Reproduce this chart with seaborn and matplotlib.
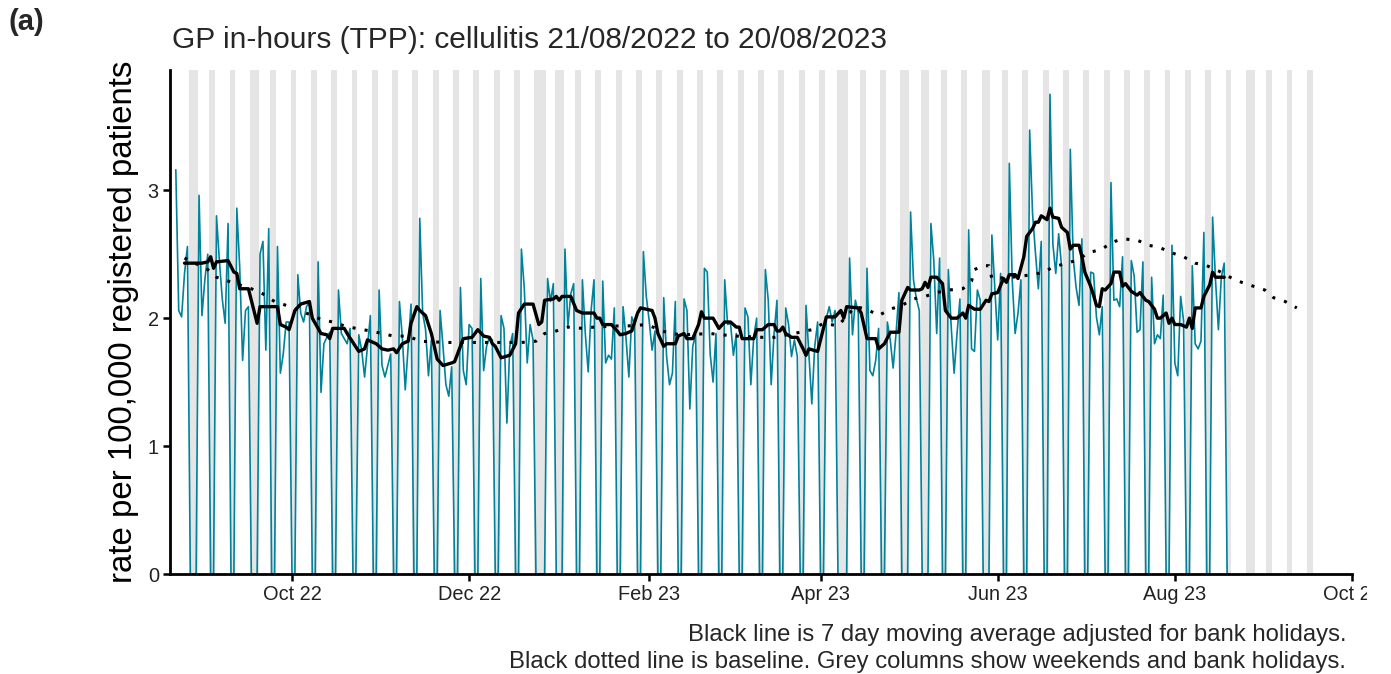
import pandas as pd
import matplotlib
matplotlib.use("Agg")
import matplotlib.pyplot as plt
import matplotlib.dates as mdates
from matplotlib.transforms import Bbox
import seaborn as sns

# ---------------------------------------------------------------
# DATA
# ---------------------------------------------------------------

# daily rate per 100,000, one row per week, Monday..Sunday, from 22/08/2022
series_start = "2022-08-22"
daily_rate = [
    3.16, 2.06, 2.01, 2.35, 2.56, 0, 0,
    0, 2.96, 2.02, 2.30, 2.50, 0, 0,
    2.80, 2.45, 2.15, 1.96, 2.74, 0, 0,
    2.86, 2.40, 1.67, 2.06, 2.09, 0, 0,
    0, 2.50, 2.60, 1.75, 2.70, 0, 0,
    2.56, 1.57, 1.72, 1.97, 1.97, 0, 0,
    2.34, 2.04, 1.97, 2.09, 2.13, 0, 0,
    2.44, 1.42, 1.80, 1.85, 1.89, 0, 0,
    2.22, 1.88, 1.84, 1.80, 1.92, 0, 0,
    1.87, 1.75, 1.54, 1.78, 2.02, 0, 0,
    2.22, 1.63, 1.54, 1.63, 1.72, 0, 0,
    2.13, 1.85, 1.44, 1.78, 2.11, 0, 0,
    2.78, 2.04, 1.91, 1.55, 1.83, 0, 0,
    2.06, 1.78, 1.48, 1.39, 1.62, 0, 0,
    2.24, 1.59, 1.48, 1.95, 1.92, 0, 0,
    2.31, 1.59, 1.78, 1.85, 1.83, 0, 0,
    2.02, 1.92, 1.18, 1.78, 1.88, 0, 0,
    2.54, 2.23, 1.65, 1.95, 1.83, 0, 0,
    0, 0, 2.31, 2.13, 2.27, 0, 0,
    0, 2.54, 1.93, 2.19, 2.27, 0, 0,
    2.30, 1.88, 1.58, 2.06, 2.30, 0, 0,
    2.29, 1.65, 1.71, 1.68, 2.08, 0, 0,
    2.09, 1.85, 1.54, 2.01, 1.95, 0, 0,
    2.52, 2.17, 1.98, 1.75, 1.90, 0, 0,
    2.16, 1.70, 1.48, 1.57, 2.13, 0, 0,
    2.15, 2.06, 1.29, 1.78, 1.87, 0, 0,
    2.39, 2.36, 1.72, 1.50, 1.88, 0, 0,
    2.30, 1.95, 1.96, 1.71, 1.88, 0, 0,
    2.08, 2.01, 1.48, 1.85, 2.00, 0, 0,
    2.38, 2.14, 1.48, 1.88, 2.14, 0, 0,
    2.08, 1.95, 1.70, 1.83, 1.70, 0, 0,
    2.10, 1.72, 1.33, 1.78, 1.97, 0, 0,
    2.00, 2.09, 1.97, 2.06, 0, 0, 0,
    0, 2.47, 1.87, 2.14, 2.04, 0, 0,
    2.39, 1.59, 1.55, 1.67, 1.92, 0, 0,
    1.97, 1.83, 1.61, 1.88, 2.20, 0, 0,
    0, 2.83, 2.30, 2.15, 2.06, 0, 0,
    0, 2.74, 2.45, 1.88, 2.47, 0, 0,
    2.38, 1.93, 1.57, 1.88, 2.15, 0, 0,
    2.69, 1.76, 1.74, 2.22, 2.14, 0, 0,
    0, 2.65, 2.24, 1.83, 2.35, 0, 0,
    3.21, 2.30, 1.88, 2.04, 2.30, 0, 0,
    3.47, 2.82, 2.51, 2.23, 2.60, 0, 0,
    3.75, 2.58, 2.35, 2.66, 2.40, 0, 0,
    3.32, 2.47, 2.24, 2.10, 2.62, 0, 0,
    2.36, 2.35, 2.01, 1.87, 2.09, 0, 0,
    3.06, 2.14, 2.15, 2.09, 2.48, 0, 0,
    2.45, 2.33, 1.89, 1.91, 2.44, 0, 0,
    2.32, 1.80, 1.87, 1.84, 2.18, 0, 0,
    2.57, 1.65, 1.55, 2.17, 1.98, 0, 0,
    2.41, 1.80, 1.76, 1.82, 2.67, 0, 0,
    2.79, 2.30, 1.91, 2.32, 2.43, 0, 0,
]

# moving average and baseline, days counted from 21/08/2022
day_zero = "2022-08-21"
ma_day = [4, 10, 12, 13, 14, 15, 19, 21, 22, 23, 26, 27, 29, 30, 32, 36, 37, 39, 40, 42,
          44, 47, 48, 51, 53, 54, 55, 59, 60, 64, 66, 67, 70, 72, 74, 76, 77, 79, 81, 82,
          84, 85, 87, 89, 91, 93, 96, 97, 98, 100, 103, 105, 107, 109, 110, 111, 113, 116, 118, 119,
          121, 124, 126, 127, 128, 131, 132, 133, 134, 137, 139, 141, 145, 146, 147, 148, 151, 153, 154, 156,
          158, 160, 161, 165, 166, 167, 169, 170, 173, 174, 176, 177, 179, 181, 182, 183, 186, 188, 190, 192,
          194, 195, 196, 200, 201, 203, 205, 207, 208, 209, 210, 211, 213, 215, 217, 218, 219, 222, 224, 225,
          228, 230, 231, 232, 236, 237, 239, 242, 243, 244, 245, 247, 250, 251, 253, 254, 257, 258, 259, 260,
          261, 263, 265, 266, 268, 270, 272, 273, 274, 276, 278, 280, 281, 282, 284, 286, 287, 288, 290, 291,
          293, 294, 296, 297, 298, 299, 301, 302, 303, 305, 306, 308, 309, 310, 312, 313, 314, 316, 317, 318,
          319, 320, 321, 323, 324, 326, 327, 328, 330, 332, 333, 335, 336, 338, 339, 340, 342, 343, 344, 345,
          347, 349, 350, 351, 352, 354, 355, 357, 358, 359, 362]
ma_rate = [2.43, 2.43, 2.44, 2.48, 2.39, 2.44, 2.45, 2.36, 2.35, 2.23, 2.23, 2.14, 1.96, 2.09, 2.09, 2.09, 1.95, 1.93, 1.91, 2.06,
           2.11, 2.13, 2.00, 1.88, 1.87, 1.84, 1.92, 1.92, 1.88, 1.74, 1.76, 1.83, 1.80, 1.76, 1.75, 1.76, 1.73, 1.80, 1.82, 1.96,
           2.09, 2.06, 2.02, 1.88, 1.68, 1.63, 1.65, 1.66, 1.72, 1.84, 1.85, 1.91, 1.86, 1.85, 1.80, 1.78, 1.69, 1.71, 1.80, 2.04,
           2.11, 2.11, 1.95, 1.97, 2.14, 2.15, 2.17, 2.14, 2.17, 2.17, 2.06, 2.04, 2.04, 2.00, 2.00, 1.95, 1.95, 1.90, 1.87, 1.88,
           1.90, 2.04, 2.08, 2.06, 2.00, 1.88, 1.78, 1.80, 1.80, 1.86, 1.88, 1.84, 1.84, 1.95, 2.05, 2.00, 2.00, 1.92, 1.97, 1.97,
           1.93, 1.93, 1.84, 1.84, 1.91, 1.91, 1.95, 1.95, 1.90, 1.90, 1.93, 1.88, 1.85, 1.85, 1.76, 1.71, 1.76, 1.74, 1.92, 2.01,
           2.01, 2.06, 2.00, 2.09, 2.08, 2.04, 1.84, 1.84, 1.76, 1.78, 1.80, 1.89, 1.89, 2.14, 2.24, 2.22, 2.22, 2.23, 2.28, 2.24,
           2.32, 2.32, 2.27, 2.06, 2.00, 2.00, 2.04, 2.00, 2.10, 2.07, 2.07, 2.14, 2.13, 2.19, 2.20, 2.31, 2.28, 2.34, 2.34, 2.31,
           2.48, 2.64, 2.70, 2.75, 2.75, 2.80, 2.77, 2.86, 2.79, 2.78, 2.71, 2.67, 2.54, 2.57, 2.57, 2.48, 2.36, 2.25, 2.18, 2.10,
           2.09, 2.23, 2.22, 2.27, 2.36, 2.36, 2.25, 2.27, 2.21, 2.18, 2.20, 2.14, 2.13, 2.07, 2.00, 2.00, 2.04, 1.96, 2.00, 1.95,
           1.95, 1.93, 2.00, 1.92, 2.08, 2.08, 2.17, 2.26, 2.36, 2.32, 2.32]

baseline_day = [4, 12, 15, 19, 27, 31, 35, 39, 47, 51, 55, 59, 63, 68, 72, 76, 81, 85, 94, 99,
                103, 107, 111, 116, 120, 125, 128, 132, 136, 141, 145, 154, 158, 163, 171, 176, 185, 189, 194, 203,
                207, 216, 220, 224, 229, 235, 239, 243, 247, 251, 255, 259, 263, 267, 272, 275, 276, 279, 281, 282,
                289, 296, 300, 303, 308, 312, 315, 320, 323, 327, 332, 336, 340, 344, 348, 352, 356, 360, 364, 368,
                372, 376, 379, 383, 387]
baseline_rate = [2.47, 2.38, 2.32, 2.29, 2.23, 2.19, 2.13, 2.10, 2.03, 1.99, 1.97, 1.94, 1.92, 1.90, 1.88, 1.86, 1.86, 1.82, 1.81, 1.81,
                 1.81, 1.81, 1.81, 1.81, 1.81, 1.82, 1.88, 1.90, 1.93, 1.92, 1.93, 1.94, 1.94, 1.95, 1.88, 1.87, 1.88, 1.87, 1.86, 1.85,
                 1.85, 1.89, 1.91, 1.96, 1.94, 2.09, 2.07, 2.02, 2.07, 2.10, 2.15, 2.17, 2.20, 2.22, 2.23, 2.29, 2.38, 2.41, 2.41, 2.31,
                 2.32, 2.34, 2.36, 2.40, 2.43, 2.46, 2.51, 2.54, 2.59, 2.62, 2.61, 2.57, 2.55, 2.51, 2.48, 2.43, 2.41, 2.37, 2.32, 2.28,
                 2.25, 2.22, 2.16, 2.13, 2.08]

# grey columns: weekends and bank holidays
bank_holidays = ["2022-08-29", "2022-09-19", "2022-12-26", "2022-12-27", "2023-01-02",
                 "2023-04-07", "2023-04-10", "2023-05-01", "2023-05-08", "2023-05-29", "2023-08-28"]
grey_first = "2022-08-22"
grey_last = "2023-09-17"

tick_dates = ["2022-10-01", "2022-12-01", "2023-02-01", "2023-04-01", "2023-06-01", "2023-08-01", "2023-10-01"]
tick_labels = ["Oct 22", "Dec 22", "Feb 23", "Apr 23", "Jun 23", "Aug 23", "Oct 23"]

title = "GP in-hours (TPP): cellulitis 21/08/2022 to 20/08/2023"
caption = ["Black line is 7 day moving average adjusted for bank holidays.",
           "Black dotted line is baseline. Grey columns show weekends and bank holidays."]

# ---------------------------------------------------------------
# PLOT
# ---------------------------------------------------------------
sns.set_style("ticks")
plt.rcParams["font.family"] = ["Liberation Sans", "DejaVu Sans"]

teal = "#00829B"
W, H = 1391, 674

df = pd.DataFrame({"date": pd.date_range(series_start, periods=len(daily_rate), freq="D"),
                   "rate": daily_rate})
df_ma = pd.DataFrame({"date": pd.Timestamp(day_zero) + pd.to_timedelta(ma_day, unit="D"),
                      "rate": ma_rate})
df_base = pd.DataFrame({"date": pd.Timestamp(day_zero) + pd.to_timedelta(baseline_day, unit="D"),
                        "rate": baseline_rate})

fig = plt.figure(figsize=(W / 100, H / 100), dpi=100)
ax = fig.add_axes([170 / W, 1 - 574 / H, (1352 - 170) / W, (574 - 70) / H])

# grey columns, merged into runs of consecutive days
days = pd.date_range(grey_first, grey_last, freq="D")
bh = pd.to_datetime(bank_holidays)
grey = [d for d in days if d.weekday() >= 5 or d in bh]
runs = []
for d in grey:
    if runs and (d - runs[-1][1]).days == 1:
        runs[-1][1] = d
    else:
        runs.append([d, d])
for a, b in runs:
    ax.axvspan(mdates.date2num(a) - 0.5, mdates.date2num(b) + 0.5, color="#E5E5E5", lw=0, zorder=0)

sns.lineplot(data=df, x="date", y="rate", color=teal, linewidth=1.2, ax=ax, zorder=2)
sns.lineplot(data=df_base, x="date", y="rate", color="black", linewidth=2.2,
             linestyle=(0, (1, 3)), ax=ax, zorder=3)
sns.lineplot(data=df_ma, x="date", y="rate", color="black", linewidth=2.4, ax=ax, zorder=4)

ax.set_xlim(mdates.date2num(pd.Timestamp("2022-08-20")), mdates.date2num(pd.Timestamp("2023-10-01")))
ax.set_ylim(0, 3.94)
ax.set_xticks([mdates.date2num(pd.Timestamp(t)) for t in tick_dates])
ax.set_xticklabels(tick_labels)
ax.set_yticks([0, 1, 2, 3])

sns.despine(ax=ax)
for s in ["left", "bottom"]:
    ax.spines[s].set_linewidth(2.0)
    ax.spines[s].set_color("black")
ax.tick_params(axis="both", length=5, width=1.8, color="black", labelsize=14.4, labelcolor="#222222", pad=3)

ax.set_xlabel("")
ax.set_ylabel("rate per 100,000 registered patients", fontsize=23.8, color="black", labelpad=6)

fig.text(8 / W, 1 - 22 / H, "(a)", fontsize=21, fontweight="bold", ha="left", va="center")
fig.text(172 / W, 1 - 40 / H, title, fontsize=21.5, ha="left", va="center")
fig.text(1346 / W, 1 - 635 / H, caption[0], fontsize=17.2, ha="right", va="center")
fig.text(1346 / W, 1 - 662 / H, caption[1], fontsize=17.2, ha="right", va="center")

# the last tick label is cut at the plot edge, as in the original
last = ax.get_xticklabels()[-1]
last.set_clip_box(Bbox.from_extents(0, 0, 1367, H))
last.set_clip_on(True)

fig.savefig("out.png", dpi=100)
